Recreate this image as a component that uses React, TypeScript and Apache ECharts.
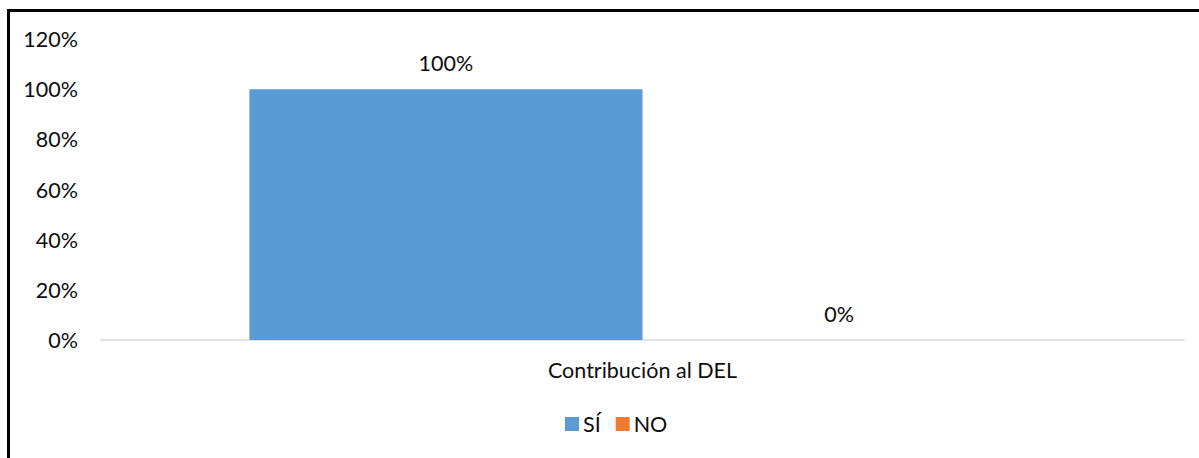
import React, { useEffect, useRef } from "react";
import * as echarts from "echarts";

const categories = ["Contribución al DEL"];
const seriesNames = ["SÍ", "NO"];
const siValues = [100];
const noValues = [0];
const yTicks = { min: 0, max: 120, interval: 20 };
const colors = ["#5B9BD5", "#ED7D31"];

const FONT = "Lato, 'Open Sans', sans-serif";
const TEXT = "#0d0d0d";
const FS = 21.5;

export default function App() {
  const ref = useRef<HTMLDivElement>(null);
  useEffect(() => {
    if (!ref.current) return;
    const chart = echarts.init(ref.current, undefined, { renderer: "svg" });
    const label = {
      show: true,
      position: "top",
      distance: 15,
      color: TEXT,
      fontFamily: FONT,
      fontSize: FS,
      formatter: (p: any) => `${p.value}%`,
    };
    chart.setOption({
      animation: false,
      textStyle: { fontFamily: FONT },
      grid: { left: 91, right: 15, top: 27, bottom: 118, containLabel: false },
      legend: {
        bottom: 18,
        left: 550,
        padding: 5,
        itemWidth: 14,
        itemHeight: 14,
        itemGap: 15,
        icon: "rect",
        textStyle: { color: TEXT, fontFamily: FONT, fontSize: FS, padding: [0, 0, 0, -1] },
        data: seriesNames,
      },
      xAxis: {
        type: "category",
        data: categories,
        axisLine: { lineStyle: { color: "#D9D9D9", width: 1.5 } },
        axisTick: { show: false },
        axisLabel: { color: TEXT, fontFamily: FONT, fontSize: FS, margin: 19 },
      },
      yAxis: {
        type: "value",
        min: yTicks.min,
        max: yTicks.max,
        interval: yTicks.interval,
        axisLine: { show: false },
        axisTick: { show: false },
        splitLine: { show: false },
        axisLabel: {
          color: TEXT,
          fontFamily: FONT,
          fontSize: FS,
          margin: 23,
          formatter: (v: number) => `${v}%`,
        },
      },
      series: [
        {
          name: seriesNames[0],
          type: "bar",
          data: siValues,
          itemStyle: { color: colors[0] },
          barGap: "0%",
          barCategoryGap: "27.4%",
          label,
        },
        {
          name: seriesNames[1],
          type: "bar",
          data: noValues,
          itemStyle: { color: colors[1] },
          barGap: "0%",
          barCategoryGap: "27.4%",
          label,
        },
      ],
    });
    return () => chart.dispose();
  }, []);
  return (
    <div
      style={{
        position: "absolute",
        left: 7,
        top: 9,
        width: 1192,
        height: 449,
        boxSizing: "border-box",
        borderLeft: "3px solid #000",
        borderTop: "3px solid #000",
        background: "#fff",
      }}
    >
      <div ref={ref} style={{ width: 1189, height: 446 }} />
    </div>
  );
}
